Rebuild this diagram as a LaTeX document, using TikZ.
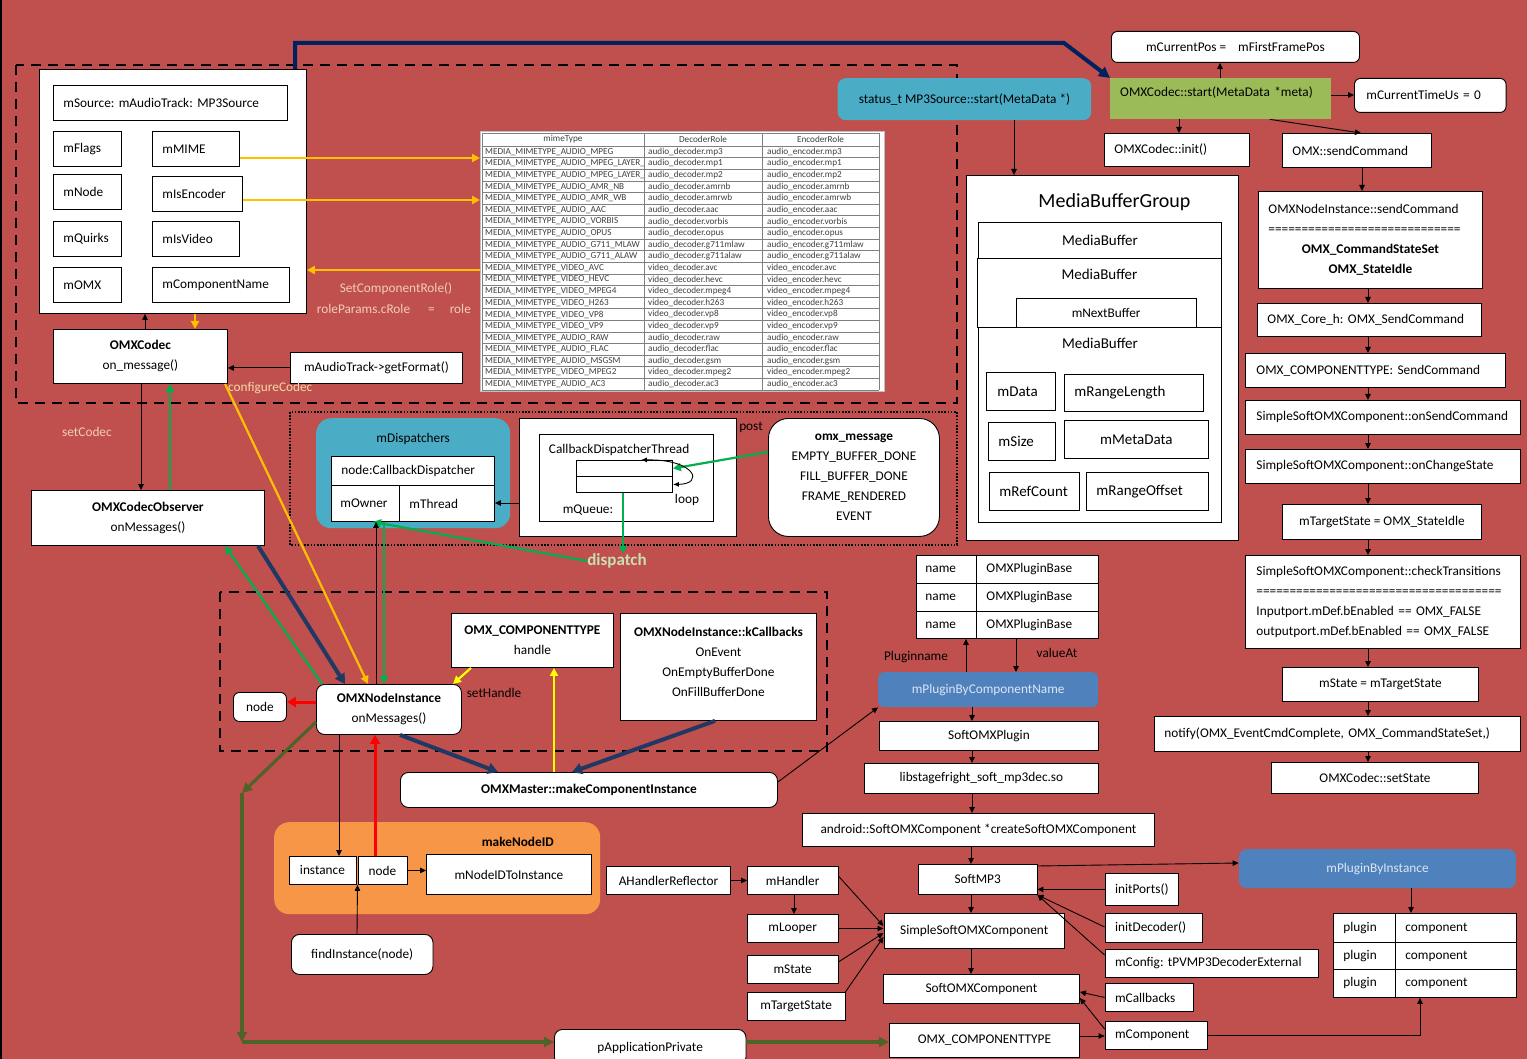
\documentclass[tikz,border=0pt]{standalone}
\usepackage{fontspec}
\setmainfont{Carlito}
\frenchspacing
\usetikzlibrary{arrows.meta}
\definecolor{bgred}{HTML}{C0504D}
\definecolor{teal1}{HTML}{4BACC6}
\definecolor{blue1}{HTML}{4F81BD}
\definecolor{green1}{HTML}{9BBB59}
\definecolor{orange1}{HTML}{F79646}
\definecolor{amber}{HTML}{FFC000}
\definecolor{yel}{HTML}{FFFF00}
\definecolor{grn}{HTML}{00B050}
\definecolor{navy1}{HTML}{1F3864}
\definecolor{navytop}{HTML}{002060}
\definecolor{myolive}{HTML}{4F6228}
\definecolor{peach}{HTML}{F2CDBA}
\definecolor{peach2}{HTML}{F3D9A8}
\definecolor{paleg}{HTML}{C5E0B4}
\definecolor{lblue}{HTML}{DCE6F2}
\definecolor{tgray}{HTML}{404040}
\newcommand\fN{\fontsize{13.3}{20}\selectfont}
\newcommand\fL{\fontsize{15}{18}\selectfont}
\newcommand\fT{\fontsize{9.2}{10}\selectfont}
\tikzset{
  bx/.style={draw=black, fill=white, line width=0.9pt, anchor=north west, inner sep=0pt, font=\fN, text=black, align=center},
  rbx/.style={bx, rounded corners=#1},
  lft/.style={align=left, inner xsep=10pt},
  arr/.style={draw=black, line width=0.9pt, -{Triangle[length=6pt,width=5.5pt]}},
  amb/.style={draw=amber, line width=2.2pt, -{Triangle[length=8pt,width=8pt]}},
  yarr/.style={draw=yel, line width=2.2pt, -{Triangle[length=8pt,width=8pt]}},
  garr/.style={draw=grn, line width=2.2pt, -{Triangle[length=8pt,width=8pt]}},
  narr/.style={draw=navy1, line width=4pt, -{Triangle[length=10pt,width=11pt]}},
  rarr/.style={draw=red, line width=3pt, -{Triangle[length=9pt,width=10pt]}},
  oarr/.style={draw=myolive, line width=3.2pt, -{Triangle[length=10pt,width=10pt]}},
  lbl/.style={font=\fN, inner sep=0pt, text=black},
  dashbox/.style={draw=black, line width=2.8pt, dash pattern=on 10pt off 7pt},
  tcell/.style={font=\fT, text=tgray, anchor=west, inner sep=0pt},
}
\begin{document}
\begin{tikzpicture}[x=1pt,y=-1pt]
\fill[bgred] (0,0) rectangle (1527,1059);
\useasboundingbox (0,0) rectangle (1527,1059);
\fill[black] (0,0) rectangle (2,1059);

% regions
\draw[dashbox] (16,65) rectangle (957,403);
\draw[black, line width=1.6pt, dash pattern=on 1.6pt off 1.6pt] (290,412) rectangle (957,545);
\draw[dashbox] (220,592) rectangle (827,751);

% ---------- top-left : OMXCodec members ----------
\node[bx, minimum width=267pt, minimum height=244pt] (mp3box) at (39,69) {};
\node[bx, lft, text width=214pt, minimum height=35pt] (msource) at (53,85) {mSource: mAudioTrack: MP3Source};
\node[bx, lft, text width=48pt, minimum height=35pt] (mflags) at (53,131) {\mbox{mFlags}};
\node[bx, lft, text width=67pt, minimum height=35pt] (mmime) at (152,131) {\mbox{mMIME}};
\node[bx, lft, text width=48pt, minimum height=35pt] (mnode) at (53,174) {\mbox{mNode}};
\node[bx, lft, text width=70pt, minimum height=35pt] (misenc) at (152,176) {\mbox{mIsEncoder}};
\node[bx, lft, text width=48pt, minimum height=35pt] (mquirks) at (53,221) {\mbox{mQuirks}};
\node[bx, lft, text width=67pt, minimum height=35pt] (misvideo) at (152,221) {\mbox{mIsVideo}};
\node[bx, lft, text width=48pt, minimum height=35pt] (momx) at (53,267) {\mbox{mOMX}};
\node[bx, lft, text width=117pt, minimum height=35pt] (mcompname) at (152,267) {\mbox{mComponentName}};

\node[bx, minimum width=174pt, minimum height=54pt] (omxcodec) at (53,329) {\textbf{OMXCodec}\\on\_message()};
\node[bx, minimum width=172pt, minimum height=31pt] (getformat) at (290,352) {mAudioTrack->getFormat()};

% ---------- role table ----------
\node[draw=gray!50, fill=white, line width=0.6pt, anchor=north west, minimum width=404pt, minimum height=260pt, inner sep=0pt] (roletab) at (480,131) {};
\draw[gray, line width=0.6pt] (482,133) -- (879,133);
\foreach \k in {0,...,21} \draw[gray, line width=0.6pt] (482,{146+11.62*\k}) -- (879,{146+11.62*\k});
\foreach \xx in {482,644,762,879} \draw[gray, line width=0.6pt] (\xx,133) -- (\xx,390);
\node[tcell, anchor=center] (th1) at (563,139.5) {mimeType};
\node[tcell, anchor=center] (th2) at (703,139.5) {DecoderRole};
\node[tcell, anchor=center] (th3) at (820.5,139.5) {EncoderRole};
\foreach \i/\m/\d/\r in {1/AUDIO\_MPEG/audio/mp3, 2/AUDIO\_MPEG\_LAYER\_I/audio/mp1, 3/AUDIO\_MPEG\_LAYER\_II/audio/mp2, 4/AUDIO\_AMR\_NB/audio/amrnb, 5/AUDIO\_AMR\_WB/audio/amrwb, 6/AUDIO\_AAC/audio/aac, 7/AUDIO\_VORBIS/audio/vorbis, 8/AUDIO\_OPUS/audio/opus, 9/AUDIO\_G711\_MLAW/audio/g711mlaw, 10/AUDIO\_G711\_ALAW/audio/g711alaw, 11/VIDEO\_AVC/video/avc, 12/VIDEO\_HEVC/video/hevc, 13/VIDEO\_MPEG4/video/mpeg4, 14/VIDEO\_H263/video/h263, 15/VIDEO\_VP8/video/vp8, 16/VIDEO\_VP9/video/vp9, 17/AUDIO\_RAW/audio/raw, 18/AUDIO\_FLAC/audio/flac, 19/AUDIO\_MSGSM/audio/gsm, 20/VIDEO\_MPEG2/video/mpeg2, 21/AUDIO\_AC3/audio/ac3}{
  \begin{scope}
    \clip (482,133) rectangle (643,390);
    \node[tcell] (ta\i) at (485,{146+11.62*(\i-0.5)}) {MEDIA\_MIMETYPE\_\m};
  \end{scope}
  \node[tcell] (tb\i) at (648,{146+11.62*(\i-0.5)}) {\d\_decoder.\r};
  \node[tcell] (tc\i) at (767,{146+11.62*(\i-0.5)}) {\d\_encoder.\r};
}

% ---------- labels ----------
\node[lbl, text=peach] (lscr) at (396,289) {SetComponentRole()};
\node[lbl, text=peach, anchor=west] (lrole) at (316.7,309) {roleParams.cRole\hspace{18pt}=\hspace{15pt}role};
\node[lbl, text=peach2, anchor=west] (lconf) at (228,388) {configureCodec};
\node[lbl, text=peach, anchor=west] (lsetcodec) at (62,432) {setCodec};

% ---------- top right ----------
\node[rbx=6pt, minimum width=248pt, minimum height=31pt] (mcurpos) at (1111,31) {mCurrentPos =\hspace{12pt}mFirstFramePos};
\node[fill=green1, anchor=north west, inner ysep=0pt, align=left, inner xsep=10pt, text width=201pt, text height=18pt, text depth=23pt, font=\fN] (omxstart) at (1110,78) {\mbox{OMXCodec::start(MetaData *meta)}};
\node[rbx=6pt, lft, inner xsep=12pt, text width=127.6pt, minimum height=34pt] (mcurtime) at (1354,78) {mCurrentTimeUs = 0};
\node[bx, lft, text width=124.7pt, minimum height=33pt] (omxinit) at (1104,133) {\mbox{OMXCodec::init()}};
\node[bx, lft, text width=129pt, minimum height=34pt] (omxsend) at (1282,133) {\mbox{OMX::sendCommand}};
\node[bx, lft, text width=204pt, minimum height=97pt] (nisend) at (1258,191) {\mbox{OMXNodeInstance::sendCommand}\\\mbox{=============================}\\\makebox[204pt]{\textbf{OMX\_CommandStateSet}}\\\makebox[204pt]{\textbf{OMX\_StateIdle}}};
\node[fill=teal1, rounded corners=8pt, anchor=north west, inner sep=0pt, minimum width=253.5pt, minimum height=42pt, font=\fN] (status) at (837.5,78) {status\_t MP3Source::start(MetaData *)};

% ---------- right column ----------
\node[bx, lft, text width=204pt, minimum height=33pt] (core) at (1257,303) {\mbox{OMX\_Core\_h: OMX\_SendCommand}};
\node[bx, lft, inner xsep=11pt, text width=238pt, minimum height=34pt] (ctsend) at (1245,353) {\mbox{OMX\_COMPONENTTYPE: SendCommand}};
\node[bx, lft, inner xsep=11pt, text width=253pt, minimum height=34pt] (onsend) at (1245,400) {\mbox{SimpleSoftOMXComponent::onSendCommand}};
\node[bx, lft, inner xsep=11pt, text width=253pt, minimum height=34pt] (onchange) at (1245,449) {\mbox{SimpleSoftOMXComponent::onChangeState}};
\node[bx, minimum width=199pt, minimum height=35pt] (tgtidle) at (1282,504) {mTargetState = OMX\_StateIdle};
\node[bx, lft, inner xsep=11pt, text width=253pt, minimum height=93pt] (check) at (1245,555) {\mbox{SimpleSoftOMXComponent::checkTransitions}\\\mbox{=====================================}\\\mbox{Inputport.mDef.bEnabled == OMX\_FALSE}\\\mbox{outputport.mDef.bEnabled == OMX\_FALSE}};
\node[bx, minimum width=196pt, minimum height=34pt] (mstateeq) at (1282,667) {mState = mTargetState};
\node[bx, lft, text width=346pt, minimum height=35pt] (notify) at (1154,716) {\mbox{notify(OMX\_EventCmdComplete, OMX\_CommandStateSet,)}};
\node[bx, minimum width=207pt, minimum height=31pt] (setstate) at (1271,762) {OMXCodec::setState};

% ---------- MediaBufferGroup ----------
\node[bx, lft, inner xsep=72pt, text width=128pt, text height=32pt, text depth=333pt, font=\fontsize{20}{24}\selectfont] (mbg) at (966,175) {\mbox{MediaBufferGroup}};
\node[bx, font=\fL, minimum width=243pt, minimum height=36pt] (mb1) at (978,222) {MediaBuffer};
\node[bx, font=\fL, minimum width=244pt, text height=21pt, text depth=48pt] (mb2) at (977,258) {MediaBuffer};
\node[bx, minimum width=180pt, minimum height=29pt] (mnext) at (1015.7,298) {mNextBuffer};
\node[bx, font=\fL, minimum width=243pt, text height=21pt, text depth=173.7pt] (mb3) at (978,327) {MediaBuffer};
\node[bx, font=\fL, lft, inner xsep=11pt, text width=46.7pt, minimum height=38pt] (mdata) at (986,372) {\mbox{mData}};
\node[bx, font=\fL, lft, text width=118.7pt, minimum height=37.3pt] (mrangelen) at (1064,373.7) {\mbox{mRangeLength}};
\node[bx, font=\fL, lft, text width=46.7pt, minimum height=38pt] (msize) at (988,422) {\mbox{mSize}};
\node[bx, font=\fL, minimum width=143.7pt, minimum height=38pt] (mmeta) at (1064,420) {mMetaData};
\node[bx, font=\fL, lft, text width=70pt, minimum height=38pt] (mrefcnt) at (989,472) {\mbox{mRefCount}};
\node[bx, font=\fL, lft, text width=101.7pt, minimum height=38pt] (mrangeoff) at (1086,472) {\mbox{mRangeOffset}};

% ---------- dispatcher area ----------
\node[fill=teal1, rounded corners=15pt, anchor=north west, inner sep=0pt, minimum width=194pt, text height=24.5pt, text depth=85.5pt, font=\fN] (mdisp) at (316,418) {mDispatchers};
\node[bx, lft, text width=143pt, minimum height=29pt] (ncd) at (331,456) {\mbox{node:CallbackDispatcher}};
\node[bx, lft, inner xsep=9pt, text width=50pt, minimum height=36pt] (mowner) at (331,485) {\mbox{mOwner}};
\node[bx, lft, text width=75pt, minimum height=36pt] (mthread) at (399,485) {\mbox{mThread}};
\node[bx, minimum width=217pt, minimum height=118pt] (cdtouter) at (519,418) {};
\node[bx, lft, text width=154.5pt, text height=19pt, text depth=68pt] (cdtinner) at (538.5,434) {\mbox{CallbackDispatcherThread}};
\node[bx, minimum width=96pt, minimum height=16pt] (queue1) at (576,460) {};
\node[bx, minimum width=96pt, minimum height=16pt] (queue2) at (576,476) {};
\node[lbl] (lloop) at (687,500) {loop};
\node[lbl] (lqueue) at (588,510) {mQueue:};
\node[lbl] (lpost) at (751,427) {post};
\node[rbx=20pt, minimum width=171pt, minimum height=118pt] (omxmsg) at (768,418) {\textbf{omx\_message}\\EMPTY\_BUFFER\_DONE\\FILL\_BUFFER\_DONE\\FRAME\_RENDERED\\EVENT};
\node[font=\bfseries\fontsize{17}{20}\selectfont, text=paleg, inner sep=0pt] (dispatch) at (617,561) {dispatch};

% ---------- lower left ----------
\node[bx, minimum width=233pt, minimum height=55pt] (observer) at (31,490) {\textbf{OMXCodecObserver}\\onMessages()};
\node[bx, minimum width=162pt, minimum height=54pt] (handle) at (451,613) {\textbf{OMX\_COMPONENTTYPE}\\handle};
\node[bx, minimum width=196pt, minimum height=107pt] (kcb) at (620,613) {\textbf{OMXNodeInstance::kCallbacks}\\OnEvent\\OnEmptyBufferDone\\OnFillBufferDone\\[-10pt]\mbox{}};
\node[rbx=8pt, minimum width=145pt, minimum height=50pt] (omxni) at (316,684) {\textbf{OMXNodeInstance}\\onMessages()};
\node[rbx=6pt, minimum width=53pt, minimum height=29pt] (nnode) at (233,692) {node};
\node[lbl] (lsethandle) at (494,693) {setHandle};
\node[rbx=8pt, minimum width=377pt, minimum height=35pt] (omxmaster) at (400,772) {\textbf{OMXMaster::makeComponentInstance}};
\node[fill=orange1, rounded corners=15pt, anchor=north west, inner ysep=0pt, inner xsep=46.5pt, text width=233pt, align=right, text height=24.5pt, text depth=67.5pt, font=\fN] (mknid) at (274,822) {\textbf{makeNodeID}};
\node[bx, minimum width=67pt, minimum height=28pt] (inst) at (288.5,856) {instance};
\node[bx, minimum width=49pt, minimum height=28pt] (nnode2) at (357.5,856) {node};
\node[bx, minimum width=165pt, minimum height=40pt] (mnidti) at (426,854) {mNodeIDToInstance};
\node[rbx=8pt, minimum width=141.5pt, minimum height=40pt] (findinst) at (291,934) {findInstance(node)};
\node[bx, minimum width=124pt, minimum height=28pt] (ahr) at (606,866) {AHandlerReflector};
\node[bx, minimum width=90.5pt, minimum height=28pt] (mhandler) at (747,866) {mHandler};
\node[bx, minimum width=90.5pt, minimum height=28pt] (mlooper) at (747,914) {mLooper};
\node[bx, minimum width=90.5pt, minimum height=28pt] (mstate) at (747,955) {mState};
\node[bx, minimum width=97.5pt, minimum height=28pt] (mtarget) at (747,992) {mTargetState};
\node[rbx=8pt, minimum width=191.5pt, minimum height=36pt] (papp) at (554,1029) {pApplicationPrivate};

% ---------- plugin area ----------
\node[bx, lft, inner xsep=9pt, text width=42pt, minimum height=28pt] (nm1) at (916,555) {\mbox{name}};
\node[bx, lft, inner xsep=9pt, text width=42pt, minimum height=28pt] (nm2) at (916,583) {\mbox{name}};
\node[bx, lft, inner xsep=9pt, text width=42pt, minimum height=27pt] (nm3) at (916,611) {\mbox{name}};
\node[bx, lft, text width=102pt, minimum height=28pt] (pb1) at (976,555) {\mbox{OMXPluginBase}};
\node[bx, lft, text width=102pt, minimum height=28pt] (pb2) at (976,583) {\mbox{OMXPluginBase}};
\node[bx, lft, text width=102pt, minimum height=27pt] (pb3) at (976,611) {\mbox{OMXPluginBase}};
\node[lbl] (lpluginname) at (916,657) {Pluginname};
\node[lbl] (lvalueat) at (1057,653) {valueAt};
\node[fill=blue1, rounded corners=6pt, anchor=north west, inner sep=0pt, minimum width=220pt, minimum height=35pt, font=\fN, text=lblue] (mpbcn) at (878,672) {mPluginByComponentName};
\node[bx, minimum width=219pt, minimum height=29pt] (softplug) at (879,721) {SoftOMXPlugin};
\node[bx, minimum width=234pt, minimum height=30pt] (libso) at (864,763) {libstagefright\_soft\_mp3dec.so};
\node[bx, minimum width=352pt, minimum height=33pt] (android) at (802,813) {android::SoftOMXComponent *createSoftOMXComponent};
\node[bx, minimum width=118.5pt, minimum height=30pt] (softmp3) at (918,864) {SoftMP3};
\node[bx, minimum width=180.5pt, minimum height=35pt] (simple) at (883.5,913) {SimpleSoftOMXComponent};
\node[bx, minimum width=196pt, minimum height=29pt] (softomx) at (883,974) {SoftOMXComponent};
\node[bx, minimum width=190pt, minimum height=34pt] (omxct2) at (889,1023) {OMX\_COMPONENTTYPE};
\node[bx, lft, text width=53.4pt, minimum height=32pt] (initports) at (1104.6,873) {\mbox{initPorts()}};
\node[bx, lft, text width=77.4pt, minimum height=29pt] (initdec) at (1104.6,913) {\mbox{initDecoder()}};
\node[bx, lft, text width=193.4pt, minimum height=28pt] (mconfig) at (1104.6,949) {\mbox{mConfig: tPVMP3DecoderExternal}};
\node[bx, lft, text width=68.4pt, minimum height=28pt] (mcallb) at (1104.6,983) {\mbox{mCallbacks}};
\node[bx, lft, text width=82pt, minimum height=28pt] (mcomp) at (1104.6,1021) {\mbox{mComponent}};
\node[fill=blue1, rounded corners=8pt, anchor=north west, inner sep=0pt, minimum width=277.4pt, minimum height=39pt, font=\fN, text=lblue] (mpbi) at (1238.6,849) {mPluginByInstance};
\node[bx, lft, text width=42pt, minimum height=29pt] (pl1) at (1333,913) {\mbox{plugin}};
\node[bx, lft, text width=42pt, minimum height=27pt] (pl2) at (1333,942) {\mbox{plugin}};
\node[bx, lft, text width=42pt, minimum height=28pt] (pl3) at (1333,969) {\mbox{plugin}};
\node[bx, lft, text width=101pt, minimum height=29pt] (co1) at (1395,913) {\mbox{component}};
\node[bx, lft, text width=101pt, minimum height=27pt] (co2) at (1395,942) {\mbox{component}};
\node[bx, lft, text width=101pt, minimum height=28pt] (co3) at (1395,969) {\mbox{component}};

% ================= connectors =================
\draw[draw=navytop, line width=4pt, -{Triangle[length=11pt,width=11pt]}] (mp3box.north -| 295,0) |- (1064,43) -- (omxstart.north west);
\draw[arr] (omxcodec.north -| 145,0) -- (mp3box.south -| 145,0);
\draw[amb] (mp3box.south -| 195,0) -- (omxcodec.north -| 195,0);
\draw[arr] (getformat.west) -- (omxcodec.east |- getformat.west);
\draw[amb] (mmime.east |- 0,158) -- (roletab.west |- 0,158);
\draw[amb] (misenc.east |- 0,200) -- (roletab.west |- 0,200);
\draw[amb] (roletab.west |- 0,270) -- (mp3box.east |- 0,270);
\draw[arr] (omxcodec.south -| 141,0) -- (observer.north -| 141,0);
\draw[garr] (observer.north -| 170,0) -- (omxcodec.south -| 170,0);
\draw[amb] (omxcodec.south -| 225,0) -- (omxni.north -| 368,0);
\draw[garr] (omxni.north -| 322,0) -- (observer.south -| 225,0);
\draw[narr] (observer.south -| 258,0) -- (omxni.north -| 345,0);

\draw[arr] (omxstart.north -| 1220,0) -- (mcurpos.south -| 1220,0);
\draw[arr] (omxstart.east |- 0,95) -- (mcurtime.west |- 0,95);
\draw[arr] (omxstart.south -| 1179,0) -- (omxinit.north -| 1179,0);
\draw[arr] (omxstart.south -| 1270,0) -- (omxsend.north -| 1361,0);
\draw[arr] (omxsend.south -| 1362,0) -- (nisend.north -| 1362,0);
\draw[arr] (status.south -| 1014,0) -- (mbg.north -| 1014,0);
\foreach \a/\b in {nisend/core, core/ctsend, ctsend/onsend, onsend/onchange, onchange/tgtidle, tgtidle/check, check/mstateeq, mstateeq/notify, notify/setstate}
  \draw[arr] (\a.south -| 1368,0) -- (\b.north -| 1368,0);

\draw[arr] (cdtouter.west |- 0,503) -- (mthread.east |- 0,503);
\draw[garr] (omxmsg.west |- 0,452) -- (queue1.east);
\draw[{Latex[length=6pt,width=5pt]}-{Latex[length=6pt,width=5pt]}, line width=0.9pt] (queue1.north -| 641,0) .. controls (695,459) and (705,484) .. (queue2.east);
\draw[garr] (queue2.south -| 623,0) -- (dispatch.north -| 623,0);
\draw[garr] (dispatch.west) -- (mowner.south -| 373,0);
\draw[arr] (omxni.north -| 376,0) -- (mowner.south -| 376,0);
\draw[garr] (mowner.south -| 384,0) -- (omxni.north -| 384,0);

\draw[rarr] (omxni.west |- 0,702) -- (nnode.east |- 0,702);
\draw[arr] (omxni.south -| 339,0) -- (inst.north -| 339,0);
\draw[rarr] (nnode2.north -| 375,0) -- (omxni.south -| 375,0);
\draw[narr] (omxni.south -| 400,0) -- (omxmaster.north -| 498,0);
\draw[narr] (kcb.south -| 715,0) -- (omxmaster.north -| 572,0);
\draw[yarr] (handle.south -| 471,0) -- (omxni.north -| 453,0);
\draw[yarr] (omxmaster.north -| 554,0) -- (handle.south -| 554,0);
\draw[arr] (omxmaster.east |- 0,782) -- (mpbcn.south west);
\coordinate (g1) at (242,793);
\coordinate (g2) at (242,1042);
\draw[oarr] (omxni.west |- 0,722) -- (g1);
\draw[oarr] (g1) -- (g2);
\draw[oarr] (g2) -- (papp.west |- g2);
\draw[oarr] (papp.east |- g2) -- (omxct2.west |- g2);

\draw[arr] (nnode2.east) -- (mnidti.west |- nnode2.east);
\draw[arr] (findinst.north -| 357,0) -- (nnode2.south west);

\draw[arr] (ahr.east) -- (mhandler.west);
\draw[arr] (mhandler.south -| 794,0) -- (mlooper.north -| 794,0);
\draw[arr] (mhandler.east |- 0,876) -- (simple.west |- 0,926);
\draw[arr] (mlooper.east) -- (simple.west |- mlooper.east);
\draw[arr] (mstate.east |- 0,962) -- (simple.west |- 0,933);
\draw[arr] (mtarget.north east) -- (simple.west |- 0,937);

\draw[arr] (mpbcn.north -| 966,0) -- (nm3.south -| 966,0);
\draw[arr] (pb3.south -| 1016,0) -- (mpbcn.north -| 1016,0);
\draw[arr] (mpbcn.south -| 972,0) -- (softplug.north -| 972,0);
\draw[arr] (softplug.south -| 972,0) -- (libso.north -| 972,0);
\draw[arr] (libso.south -| 972,0) -- (android.north -| 972,0);
\draw[arr] (android.south -| 971,0) -- (softmp3.north -| 971,0);
\draw[arr] (softmp3.south -| 971,0) -- (simple.north -| 971,0);
\draw[arr] (simple.south -| 971,0) -- (softomx.north -| 971,0);
\draw[arr] (softmp3.east |- 0,866) -- (mpbi.west |- 0,863);
\draw[arr] (initports.west) -- (softmp3.east |- initports.west);
\draw[arr] (initdec.west |- 0,927) -- (softmp3.south east);
\draw[arr] (mconfig.west |- 0,955) -- (softmp3.south east);
\draw[arr] (mcallb.west) -- (softomx.east |- 0,992);
\draw[arr] (mcomp.west |- 0,1029) -- (softomx.east |- 0,998);
\draw[arr] (omxct2.east |- 0,1036) -- (mcomp.west |- 0,1036);
\draw[arr] (mcomp.east) -| (co3.south -| 1420,0);
\draw[arr] (mpbi.south -| 1411,0) -- (co1.north -| 1411,0);
\end{tikzpicture}
\end{document}
